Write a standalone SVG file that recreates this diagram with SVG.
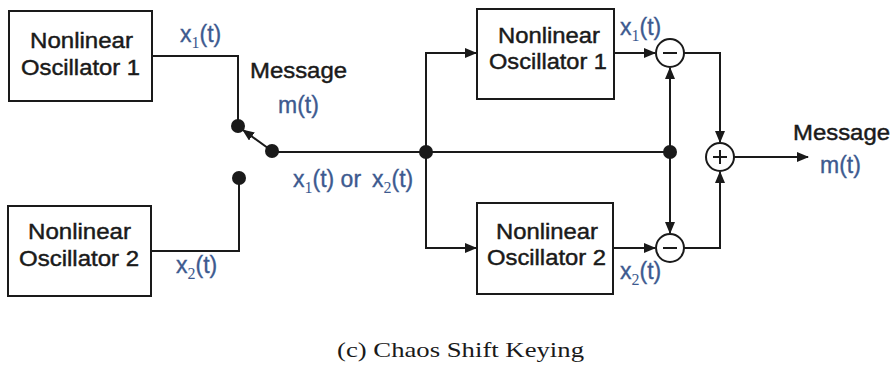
<svg xmlns="http://www.w3.org/2000/svg" width="895" height="372" viewBox="0 0 895 372">
<defs>
<style>
.box{fill:#fff;stroke:#1a1a1a;stroke-width:2}
.ln{fill:none;stroke:#1a1a1a;stroke-width:2}
.dot{fill:#1a1a1a}
.t{font-family:"Liberation Sans",Arial,sans-serif;font-size:22px;fill:#1a1a1a;stroke:#1a1a1a;stroke-width:0.45}
.b{font-family:"Liberation Sans",Arial,sans-serif;font-size:23px;fill:#3d5a8f;stroke:#3d5a8f;stroke-width:0.35}
.s{font-family:"Liberation Serif","Times New Roman",serif;font-size:16px;stroke-width:0}
.cap{font-family:"Liberation Serif","Times New Roman",serif;font-size:21px;fill:#1a1a1a}
.sum{fill:#fff;stroke:#1a1a1a;stroke-width:2}
</style>
<marker id="ah" markerWidth="12" markerHeight="10" refX="11" refY="5" orient="auto" markerUnits="userSpaceOnUse">
<path d="M0,0 L12,5 L0,10 Z" fill="#1a1a1a"/>
</marker>
</defs>
<rect width="895" height="372" fill="#fff"/>

<g id="connectors">
<polyline class="ln" points="152,56 238,56 238,126"/>
<polyline class="ln" points="151,251 239,251 239,178"/>
<line class="ln" x1="272" y1="151" x2="243" y2="130" marker-end="url(#ah)"/>
<line class="ln" x1="272" y1="152" x2="670" y2="152"/>
<polyline class="ln" points="426,152 426,53 476,53" marker-end="url(#ah)"/>
<polyline class="ln" points="426,152 426,248 476,248" marker-end="url(#ah)"/>
<line class="ln" x1="614" y1="53" x2="655" y2="53" marker-end="url(#ah)"/>
<line class="ln" x1="613" y1="248" x2="655" y2="248" marker-end="url(#ah)"/>
<line class="ln" x1="670" y1="152" x2="670" y2="68" marker-end="url(#ah)"/>
<line class="ln" x1="670" y1="152" x2="670" y2="233" marker-end="url(#ah)"/>
<polyline class="ln" points="684,53 720,53 720,142" marker-end="url(#ah)"/>
<polyline class="ln" points="684,248 720,248 720,172" marker-end="url(#ah)"/>
<line class="ln" x1="734" y1="157" x2="808" y2="157" marker-end="url(#ah)"/>
<circle class="dot" cx="238" cy="126" r="7"/>
<circle class="dot" cx="239" cy="178" r="7"/>
<circle class="dot" cx="272" cy="151" r="7"/>
<circle class="dot" cx="426" cy="152" r="7"/>
<circle class="dot" cx="670" cy="152" r="7"/>
</g>

<g id="osc1">
<rect class="box" x="9" y="11" width="143" height="90"/>
<text class="t" x="30" y="48" textLength="103" lengthAdjust="spacingAndGlyphs">Nonlinear</text>
<text class="t" x="21" y="75" textLength="119" lengthAdjust="spacingAndGlyphs">Oscillator 1</text>
</g>
<g id="osc2">
<rect class="box" x="8" y="206" width="143" height="90"/>
<text class="t" x="28" y="239" textLength="103" lengthAdjust="spacingAndGlyphs">Nonlinear</text>
<text class="t" x="19" y="266" textLength="120" lengthAdjust="spacingAndGlyphs">Oscillator 2</text>
</g>
<g id="rosc1">
<rect class="box" x="477" y="9" width="137" height="90"/>
<text class="t" x="498" y="43" textLength="102" lengthAdjust="spacingAndGlyphs">Nonlinear</text>
<text class="t" x="489" y="69" textLength="118" lengthAdjust="spacingAndGlyphs">Oscillator 1</text>
</g>
<g id="rosc2">
<rect class="box" x="477" y="203" width="136" height="91"/>
<text class="t" x="496" y="239" textLength="102" lengthAdjust="spacingAndGlyphs">Nonlinear</text>
<text class="t" x="487" y="265" textLength="119" lengthAdjust="spacingAndGlyphs">Oscillator 2</text>
</g>
<g id="sub1">
<circle class="sum" cx="670" cy="53" r="14"/>
<line class="ln" x1="663" y1="53" x2="677" y2="53"/>
</g>
<g id="sub2">
<circle class="sum" cx="670" cy="248" r="14"/>
<line class="ln" x1="663" y1="248" x2="677" y2="248"/>
</g>
<g id="add">
<circle class="sum" cx="720" cy="157" r="14"/>
<line class="ln" x1="713" y1="157" x2="727" y2="157"/>
<line class="ln" x1="720" y1="150" x2="720" y2="164"/>
</g>

<g id="labels">
<text class="b" x="180" y="42">x<tspan class="s" dy="6">1</tspan><tspan dy="-6">(t)</tspan></text>
<text class="t" x="250" y="78" textLength="97" lengthAdjust="spacingAndGlyphs">Message</text>
<text class="b" x="278" y="113">m(t)</text>
<text class="b" x="293" y="187">x<tspan class="s" dy="6">1</tspan><tspan dy="-6">(t) or</tspan><tspan x="372">x</tspan><tspan class="s" dy="6">2</tspan><tspan dy="-6">(t)</tspan></text>
<text class="b" x="176" y="273">x<tspan class="s" dy="6">2</tspan><tspan dy="-6">(t)</tspan></text>
<text class="b" x="620" y="35">x<tspan class="s" dy="6">1</tspan><tspan dy="-6">(t)</tspan></text>
<text class="b" x="620" y="279">x<tspan class="s" dy="6">2</tspan><tspan dy="-6">(t)</tspan></text>
<text class="t" x="793" y="140" textLength="97" lengthAdjust="spacingAndGlyphs">Message</text>
<text class="b" x="820" y="173">m(t)</text>
</g>
<text class="cap" x="337" y="357" textLength="247" lengthAdjust="spacingAndGlyphs">(c) Chaos Shift Keying</text>
</svg>
